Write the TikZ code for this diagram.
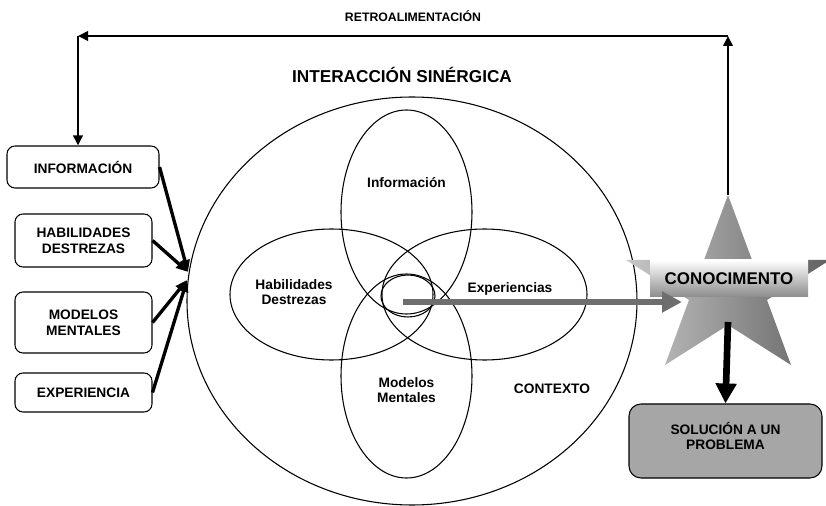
\documentclass[tikz,border=0pt]{standalone}
\usepackage{fontspec}
\setmainfont{Liberation Sans}
\usetikzlibrary{arrows.meta, calc, positioning}

\begin{document}
\begin{tikzpicture}[x=0.75pt, y=-0.75pt,
    caja/.style={draw, line width=0.8pt, rounded corners=6pt, align=center, inner sep=0pt,
        font=\bfseries\fontsize{10.3}{11.8}\selectfont},
    texto/.style={align=center, inner sep=0pt, font=\bfseries\fontsize{10.3}{11.8}\selectfont},
    entrada/.style={line width=2.5pt, -{Triangle[length=9pt,width=7pt]}},
    retro/.style={line width=2pt, -{Triangle[length=7.5pt,width=7pt]}}]
\useasboundingbox (0,0) rectangle (826,506);

\draw[line width=0.8pt] (412,301) ellipse [x radius=225, y radius=204];
\draw[line width=0.8pt] (331.5,294.5) ellipse [x radius=101.5, y radius=65.5];
\draw[line width=0.8pt] (484.5,294.5) ellipse [x radius=102.5, y radius=65.5];
\draw[line width=0.8pt] (406.5,212) ellipse [x radius=65.5, y radius=102];
\draw[line width=0.8pt] (406.5,376) ellipse [x radius=65.5, y radius=102];
\draw[line width=0.8pt] (408,296) ellipse [x radius=27, y radius=21];

\node[texto, font=\bfseries\fontsize{9.2}{11}\selectfont] (retrotxt) at (413,16) {RETROALIMENTACIÓN};
\node[texto, font=\bfseries\fontsize{12.9}{15}\selectfont] (titulo) at (402,75) {INTERACCIÓN SINÉRGICA};
\node[texto] (infotxt) at (406.5,183) {Información};
\node[texto] (habtxt) at (294,292) {Habilidades\\Destrezas};
\node[texto] (exptxt) at (510,289) {Experiencias};
\node[texto] (modtxt) at (406.5,390) {Modelos\\Mentales};
\node[texto] (contexto) at (552,389) {CONTEXTO};

\node[caja, minimum width=114pt, minimum height=31.5pt] (infobox) at (83,167) {INFORMACIÓN};
\node[caja, minimum width=102.75pt, minimum height=39.75pt] (habbox) at (83.5,240.5) {HABILIDADES\\DESTREZAS};
\node[caja, minimum width=102.75pt, minimum height=45.75pt] (modbox) at (83.5,322.5) {MODELOS\\MENTALES};
\node[caja, minimum width=102.75pt, minimum height=29.25pt] (expbox) at (83.5,392.5) {EXPERIENCIA};

\coordinate (entA) at (188,272);
\coordinate (entB) at (187,280);
\draw[entrada] (infobox.east) -- (entA);
\draw[entrada] (habbox.east) -- (entA);
\draw[entrada] (modbox.east) -- (entB);
\draw[entrada] (expbox.east) -- (entB);

\shade[left color=black!22, right color=black!62] (728,195) -- (752,260) -- (830,260) -- (767,300)
    -- (791,365) -- (728,325) -- (665,365) -- (689,300) -- (626,260) -- (704,260) -- cycle;
\coordinate (cima) at (728,195);
\coordinate (pie) at (728,322);
\node[top color=white, bottom color=black!45, minimum width=118.5pt, minimum height=27.75pt,
    inner sep=0pt, font=\bfseries\fontsize{12.7}{15}\selectfont] (conoc) at (729,278.5) {CONOCIMENTO};

\node[caja, fill=black!35, rounded corners=9pt, minimum width=144.75pt, minimum height=55.5pt]
    (solucion) at (725.5,441) {SOLUCIÓN A UN\\PROBLEMA\\[-4pt]\mbox{}};

\coordinate (nucleo) at (403,302);
\coordinate (punta) at (682,302);
\draw[line width=5.2pt, black!57, -{Triangle[length=15pt,width=15pt]}] (nucleo) -- (punta);
\draw[line width=5pt, -{Triangle[length=15pt,width=15pt]}] (pie) -- (solucion.north);

\coordinate (esqD) at (728,36);
\coordinate (esqI) at (78,36);
\draw[retro] (cima) -- (esqD);
\draw[retro] (esqD) -- (esqI);
\draw[retro] (esqI) -- (esqI |- infobox.north);
\end{tikzpicture}
\end{document}
